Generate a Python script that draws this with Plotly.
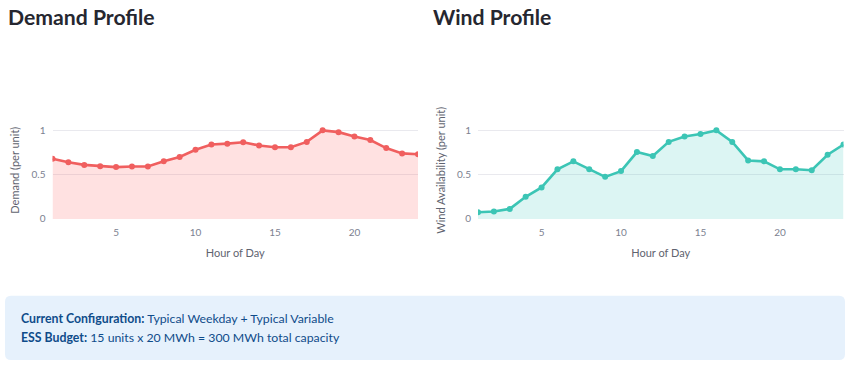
import plotly.graph_objects as go

hours = list(range(1, 25))
demand = [0.68, 0.64, 0.61, 0.596, 0.585, 0.592, 0.592, 0.65, 0.70, 0.78, 0.84, 0.85,
          0.865, 0.83, 0.81, 0.81, 0.87, 1.0, 0.98, 0.93, 0.89, 0.80, 0.74, 0.73]
wind = [0.075, 0.083, 0.113, 0.25, 0.355, 0.56, 0.65, 0.56, 0.475, 0.54, 0.755, 0.71,
        0.87, 0.93, 0.96, 1.0, 0.87, 0.66, 0.65, 0.56, 0.56, 0.55, 0.725, 0.84]
x_ticks = [5, 10, 15, 20]
y_ticks = [0, 0.5, 1]
y_tick_text = ["0", "0.5", "1"]

W, H = 848, 365
H_EFF = 359  # effective rendered height used for paper fractions
FONT = "Lato"
TICK_COLOR = "#7c8190"
TITLE_COLOR = "#5f6470"

fig = go.Figure()
fig.add_trace(go.Scatter(x=hours, y=demand, mode="lines+markers", fill="tozeroy",
                         line=dict(color="#F05F5F", width=2.6), marker=dict(size=6, color="#F05F5F"),
                         fillcolor="rgba(255,107,107,0.2)", xaxis="x", yaxis="y", showlegend=False))
fig.add_trace(go.Scatter(x=hours, y=wind, mode="lines+markers", fill="tozeroy",
                         line=dict(color="#3CC5B5", width=2.6), marker=dict(size=6, color="#3CC5B5"),
                         fillcolor="rgba(78,205,196,0.2)", xaxis="x2", yaxis="y2", showlegend=False))

def px_x(p):
    return p / W

def px_y(p):
    return 1 - p / H_EFF

y_bottom = 218.3
unit = 88.3
y_top_val = 1.1
ydom = [px_y(y_bottom), px_y(y_bottom - unit * y_top_val)]

common_x = dict(range=[1, 24], tickvals=x_ticks, showgrid=False, zeroline=False, showline=False,
                ticks="", ticklabelstandoff=6, tickfont=dict(size=10, color=TICK_COLOR, family=FONT),
                title=dict(text="Hour of Day", font=dict(size=11, color=TITLE_COLOR, family=FONT), standoff=12))
common_y = dict(range=[0, y_top_val], tickvals=y_ticks, ticktext=y_tick_text, showgrid=True,
                gridcolor="#e9e9ee", gridwidth=1, zeroline=False, showline=False, ticks="",
                ticklabelstandoff=6, tickfont=dict(size=10, color=TICK_COLOR, family=FONT))

fig.update_layout(
    width=W, height=H, margin=dict(l=0, r=0, t=0, b=0),
    paper_bgcolor="white", plot_bgcolor="white",
    font=dict(family=FONT),
    xaxis=dict(domain=[px_x(52.5), px_x(418)], anchor="y", **common_x),
    yaxis=dict(domain=ydom, anchor="x",
               title=dict(text="Demand (per unit)", font=dict(size=11, color=TITLE_COLOR, family=FONT), standoff=9),
               **common_y),
    xaxis2=dict(domain=[px_x(478), px_x(843.5)], anchor="y2", **common_x),
    yaxis2=dict(domain=ydom, anchor="x2",
                title=dict(text="Wind Availability (per unit)", font=dict(size=11, color=TITLE_COLOR, family=FONT), standoff=9),
                **common_y),
)

# headings
fig.add_annotation(text="Demand Profile", x=px_x(6), y=px_y(17), xref="paper", yref="paper",
                   xanchor="left", yanchor="middle", showarrow=False,
                   font=dict(size=21.2, color="#262730", family=FONT, weight=700))
fig.add_annotation(text="Wind Profile", x=px_x(431), y=px_y(17), xref="paper", yref="paper",
                   xanchor="left", yanchor="middle", showarrow=False,
                   font=dict(size=21.2, color="#262730", family=FONT, weight=700))

# info box
x0, x1, y0, y1, r = 5, 845, 295, 359, 6
path = (f"M {px_x(x0 + r)},{px_y(y0)} L {px_x(x1 - r)},{px_y(y0)} "
        f"Q {px_x(x1)},{px_y(y0)} {px_x(x1)},{px_y(y0 + r)} L {px_x(x1)},{px_y(y1 - r)} "
        f"Q {px_x(x1)},{px_y(y1)} {px_x(x1 - r)},{px_y(y1)} L {px_x(x0 + r)},{px_y(y1)} "
        f"Q {px_x(x0)},{px_y(y1)} {px_x(x0)},{px_y(y1 - r)} L {px_x(x0)},{px_y(y0 + r)} "
        f"Q {px_x(x0)},{px_y(y0)} {px_x(x0 + r)},{px_y(y0)} Z")
fig.add_shape(type="path", path=path, xref="paper", yref="paper",
              fillcolor="#E6F1FC", line=dict(width=0), layer="below")

INFO_COLOR = "#0F4C8A"
fig.add_annotation(text="<b>Current Configuration:</b> Typical Weekday + Typical Variable",
                   x=px_x(19), y=px_y(318), xref="paper", yref="paper", xanchor="left", yanchor="middle",
                   showarrow=False, font=dict(size=12.3, color=INFO_COLOR, family=FONT))
fig.add_annotation(text="<b>ESS Budget:</b> 15 units x 20 MWh = 300 MWh total capacity",
                   x=px_x(19), y=px_y(337), xref="paper", yref="paper", xanchor="left", yanchor="middle",
                   showarrow=False, font=dict(size=12.3, color=INFO_COLOR, family=FONT))

fig.write_html("out.html")
